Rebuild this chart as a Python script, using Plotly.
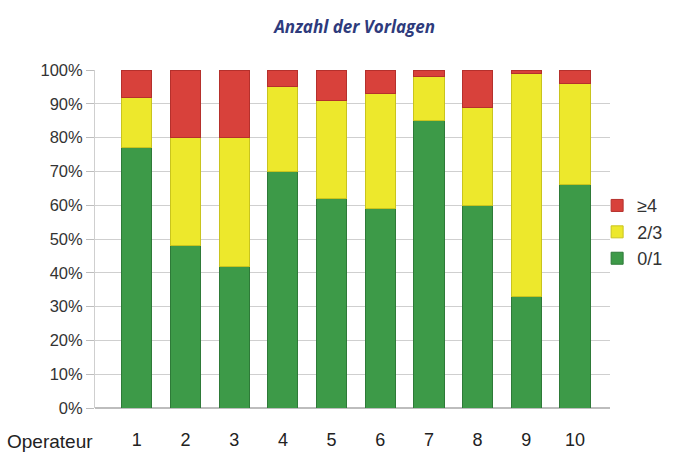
import plotly.graph_objects as go

operators = ["1", "2", "3", "4", "5", "6", "7", "8", "9", "10"]
share_01 = [77, 48, 42, 70, 62, 59, 85, 60, 33, 66]
share_23 = [15, 32, 38, 25, 29, 34, 13, 29, 66, 30]
share_ge4 = [8, 20, 20, 5, 9, 7, 2, 11, 1, 4]
y_ticks = [0, 10, 20, 30, 40, 50, 60, 70, 80, 90, 100]
y_tick_labels = [f"{v}%" for v in y_ticks]

series = [
    ("0/1", share_01, "#3d9a48", "#2e7a38"),
    ("2/3", share_23, "#ede82c", "#c9c41e"),
    ("≥4", share_ge4, "#d8413b", "#b5302c"),
]

fig = go.Figure()
for name, vals, col, edge in series:
    fig.add_trace(go.Bar(
        x=operators, y=vals, name=name,
        marker=dict(color=col, line=dict(color=edge, width=1)),
        width=0.62,
    ))

fig.update_layout(
    width=682, height=459,
    barmode="stack",
    paper_bgcolor="white", plot_bgcolor="white",
    margin=dict(l=95, r=72, t=70, b=51, autoexpand=False),
    font=dict(family="Liberation Sans, Arial, sans-serif", color="#333333"),
    title=dict(
        text="<b><i>Anzahl der Vorlagen</i></b>",
        font=dict(family="Open Sans, sans-serif", size=17, color="#2e3b7c"),
        x=0.52, xanchor="center", y=0.94, yanchor="middle",
    ),
    legend=dict(
        x=0.975, xanchor="left", y=0.52, yanchor="middle",
        traceorder="reversed",
        font=dict(size=18, color="#333333"),
        itemwidth=30,
        bgcolor="rgba(0,0,0,0)",
    ),
    showlegend=True,
)

fig.update_yaxes(
    range=[0, 100],
    tickvals=y_ticks, ticktext=y_tick_labels,
    tickfont=dict(size=16.5, color="#333333"),
    showgrid=True, gridcolor="#cfcfcf", gridwidth=1,
    zeroline=True, zerolinecolor="#bdbdbd",
    ticks="outside", ticklen=8, tickcolor="#bdbdbd",
    showline=True, linecolor="#cfcfcf",
)
fig.update_xaxes(
    type="category",
    range=[-0.86, 9.72],
    tickfont=dict(size=18, color="#222222"),
    ticklabelstandoff=19,
    showgrid=False, showline=False,
)

fig.add_annotation(
    text="Operateur", xref="paper", yref="paper",
    x=-0.087, y=-0.1, xanchor="center", yanchor="middle",
    showarrow=False, font=dict(size=19, color="#222222"),
)

fig.write_html("out.html", config={"displayModeBar": False},
               post_script="document.body.style.margin='0';")
